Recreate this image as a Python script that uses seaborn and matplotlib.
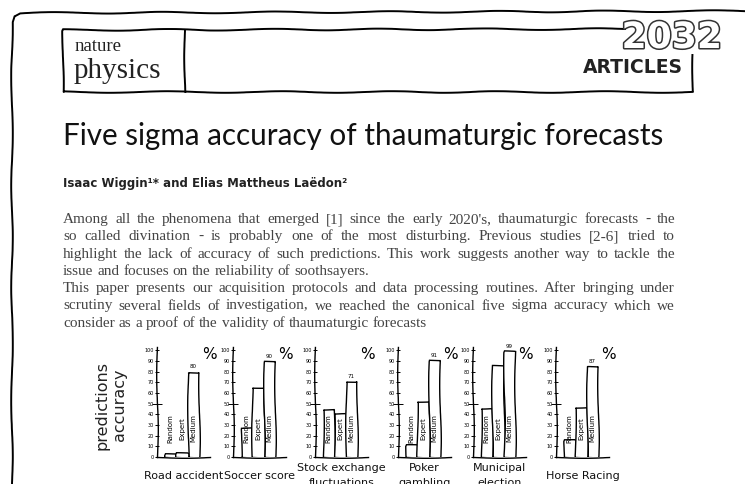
import numpy as np
import pandas as pd
import seaborn as sns
import matplotlib.pyplot as plt
from matplotlib import patheffects as pe

# DATA
categories = ["Road accident", "Soccer score", "Stock exchange\nfluctuations",
              "Poker\ngambling", "Municipal\nelection", "Horse Racing"]
methods = ["Random", "Expert", "Medium"]
random_acc = [3, 27, 45, 11, 46, 16]
expert_acc = [4, 66, 41, 52, 86, 47]
medium_acc = [80, 90, 71, 91, 99, 85]
medium_labels = ["80", "90", "71", "91", "99", "87"]
ytick_values = [0, 10, 20, 30, 40, 50, 60, 70, 80, 90, 100]

title = "Five sigma accuracy of thaumaturgic forecasts"
authors = "Isaac Wiggin\u00b9* and Elias Mattheus La\u00ebdon\u00b2"
para_lines = [
    ("Among all the phenomena that emerged [1] since the early 2020's, thaumaturgic forecasts - the", True),
    ("so called divination - is probably one of the most disturbing. Previous studies [2-6] tried to", True),
    ("highlight the lack of accuracy of such predictions. This work suggests another way to tackle the", True),
    ("issue and focuses on the reliability of soothsayers.", False),
    ("This paper presents our acquisition protocols and data processing routines. After bringing under", True),
    ("scrutiny several fields of investigation, we reached the canonical five sigma accuracy which we", True),
    ("consider as a proof of the validity of thaumaturgic forecasts", False),
]

plt.xkcd(scale=0.8, length=120, randomness=2)
plt.rcParams['font.family'] = ['DejaVu Sans']
plt.rcParams['path.effects'] = []

fig = plt.figure(figsize=(7.45, 4.84), dpi=100)

# page background in pixel coordinates
bg = fig.add_axes([0, 0, 1, 1])
bg.set_xlim(0, 745)
bg.set_ylim(484, 0)
bg.axis('off')

# page border and header box
bg.plot([12, 12, 14, 20, 745], [484, 22, 16, 13, 11], color='k', lw=1.4)
bg.plot([625, 63, 63, 693, 693], [29, 30, 92, 92, 55], color='k', lw=1.4)
bg.plot([185, 185], [30, 92], color='k', lw=1.4)

bg.text(75, 51, "nature", family='Liberation Serif', fontsize=13.5, color='#222')
bg.text(74, 78, "physics", family='Liberation Serif', fontsize=21, color='#222')
bg.text(683, 73, "ARTICLES", ha='right', fontsize=13.5, weight='bold', color='#222')
bg.text(722, 48, "2032", ha='right', fontsize=26, color='white', weight='bold',
        path_effects=[pe.Stroke(linewidth=2.2, foreground='#333'), pe.Normal()])

bg.text(63, 145, title, family=['Lato', 'DejaVu Sans'], weight='normal',
        fontsize=21.3, color='#111')
bg.text(63, 187, authors, fontsize=8.5, weight='bold', color='#222')

# justified paragraph
renderer = fig.canvas.get_renderer()
left, right = 63, 675
base = 223
pfont = dict(family='Liberation Serif', fontsize=11, color='#444')
for i, (line, justify) in enumerate(para_lines):
    y = base + i * 17.3
    words = line.split(' ')
    objs = [bg.text(left, y, w, **pfont) for w in words]
    widths = [o.get_window_extent(renderer).width for o in objs]
    if justify:
        gap = (right - left - sum(widths)) / (len(words) - 1)
    else:
        sp = bg.text(0, 0, 'a a', **pfont)
        sp2 = bg.text(0, 0, 'aa', **pfont)
        gap = sp.get_window_extent(renderer).width - sp2.get_window_extent(renderer).width
        sp.remove()
        sp2.remove()
    x = left
    for o, w in zip(objs, widths):
        o.set_x(x)
        x += w + gap

fig.text(111 / 745, 1 - 405 / 484, "predictions\naccuracy", rotation=90,
         ha='center', va='center', fontsize=11.5, color='#222', linespacing=1.2)

# small bar charts
axis_left = [157, 233, 315, 398, 473, 556]
for k, cat in enumerate(categories):
    ax = fig.add_axes([axis_left[k] / 745, 27 / 484, 53 / 745, 110 / 484])
    df = pd.DataFrame({'method': methods,
                       'acc': [random_acc[k], expert_acc[k], medium_acc[k]]})
    sns.barplot(data=df, x='method', y='acc', color='white', saturation=1,
                edgecolor='black', linewidth=1, width=1, ax=ax)
    ax.set_xlim(-1.23, 3.5)
    ax.set_ylim(0, 103)
    ax.spines['top'].set_visible(False)
    ax.spines['right'].set_visible(False)
    ax.spines['left'].set_linewidth(1)
    ax.spines['bottom'].set_linewidth(1)
    ax.set_xticks([])
    ax.set_yticks(ytick_values)
    ax.tick_params(axis='y', direction='inout', length=3, width=0.7, pad=1,
                   labelsize=3.5)
    ax.yaxis.get_major_ticks()[5].tick1line.set_markersize(7)
    ax.set_ylabel('')
    ax.set_xlabel('')
    # category name under each panel, centred like the reference (2nd line runs off the page)
    ax.text(0.5, -0.17, cat, transform=ax.transAxes, ha='center', va='center',
            fontsize=8, color='#111', linespacing=1.6)
    for i, m in enumerate(methods):
        ax.text(i, 27, m, rotation=90, ha='center', va='center', fontsize=5)
    ax.text(2, medium_acc[k] + 2, medium_labels[k], ha='center', va='bottom',
            fontsize=4)
    ax.text(0.98, 0.93, '%', transform=ax.transAxes, ha='center', va='center',
            fontsize=11)
    ax.patch.set_alpha(0)

fig.savefig('out.png', dpi=100)
